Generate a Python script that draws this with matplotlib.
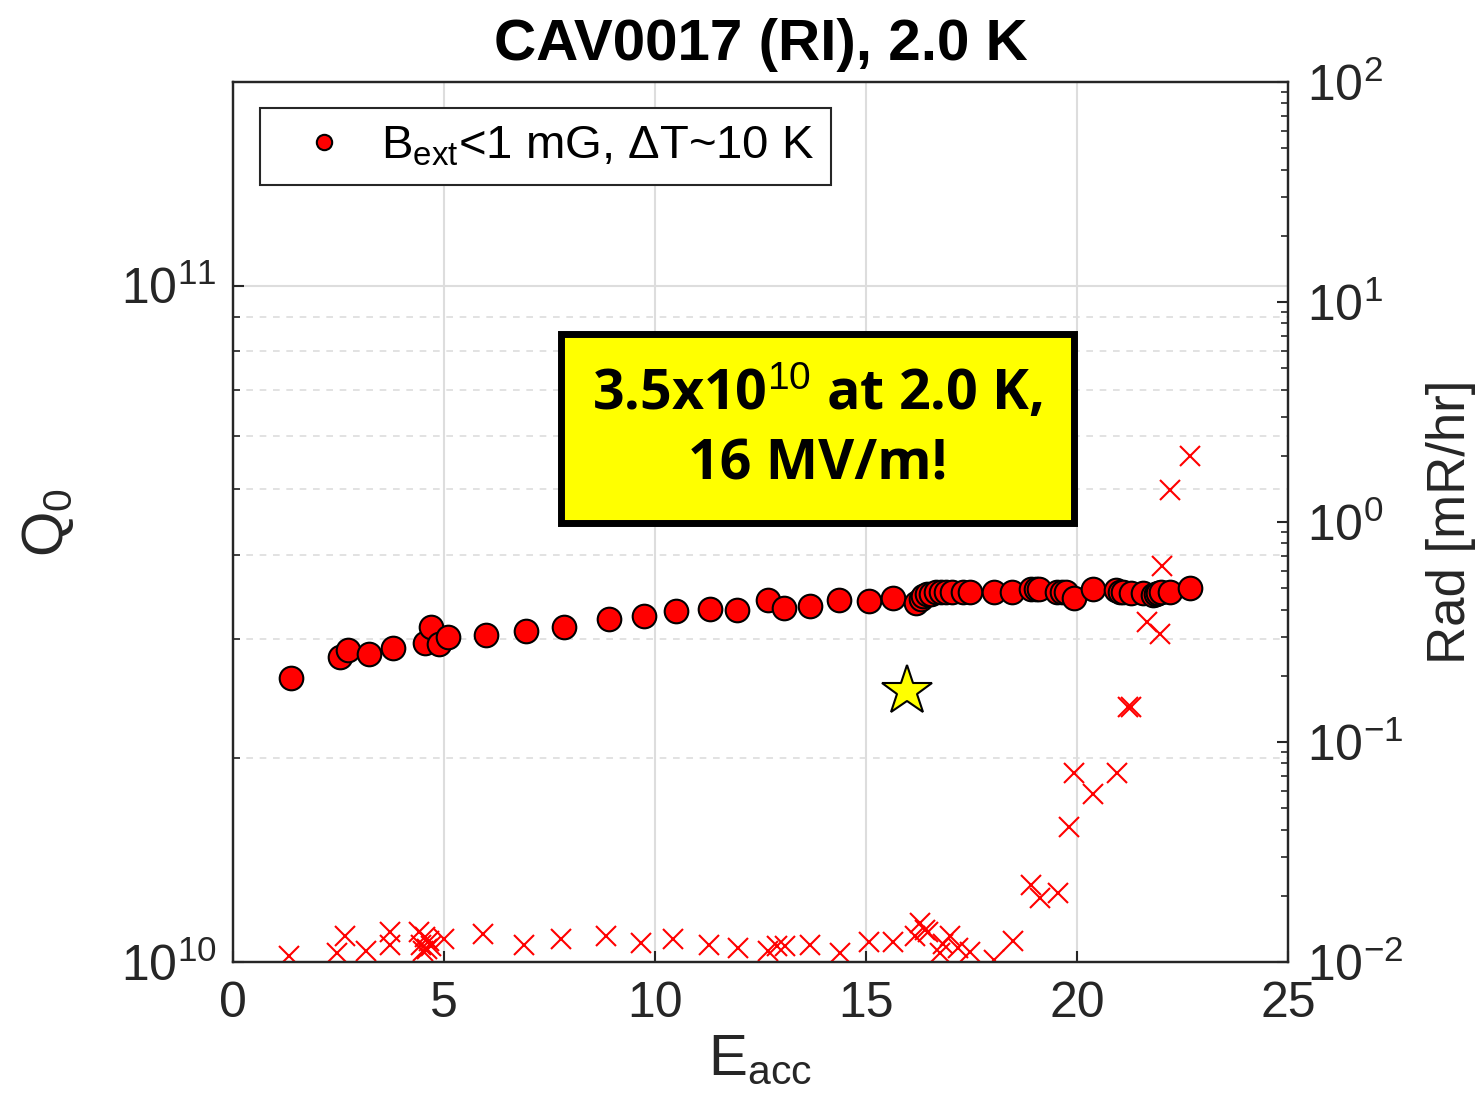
import numpy as np
import matplotlib
matplotlib.use("Agg")
import matplotlib.pyplot as plt

plt.rcParams['font.family'] = ['Liberation Sans', 'DejaVu Sans']
plt.rcParams['mathtext.fontset'] = 'custom'
plt.rcParams['mathtext.rm'] = 'Liberation Sans'
plt.rcParams['mathtext.it'] = 'Liberation Sans:italic'

# Q0 vs Eacc (Q0 in units of 1e10)
e_q = [1.37, 2.54, 2.72, 3.22, 3.79, 4.55, 4.69, 4.88, 5.09, 6.00, 6.94, 7.84,
       8.91, 9.74, 10.50, 11.30, 11.95, 12.67, 13.05, 13.67, 14.36, 15.07,
       15.64, 16.19, 16.30, 16.36, 16.45, 16.53, 16.65, 16.78, 16.90, 17.03,
       17.29, 17.46, 18.03, 18.47, 18.90, 19.02, 19.11, 19.53, 19.65, 19.75,
       19.93, 20.38, 20.93, 21.02, 21.10, 21.27, 21.57, 21.80, 21.86, 21.93,
       21.99, 22.20, 22.67]
q0 = [2.63, 2.82, 2.89, 2.85, 2.91, 2.96, 3.13, 2.95, 3.02, 3.04, 3.09, 3.13,
      3.21, 3.25, 3.30, 3.33, 3.32, 3.43, 3.34, 3.36, 3.43, 3.42, 3.45, 3.40,
      3.44, 3.48, 3.50, 3.50, 3.52, 3.52, 3.52, 3.52, 3.52, 3.52, 3.52, 3.52,
      3.56, 3.56, 3.56, 3.52, 3.52, 3.53, 3.45, 3.56, 3.55, 3.53, 3.52, 3.51,
      3.51, 3.49, 3.50, 3.51, 3.52, 3.53, 3.57]

# radiation vs Eacc (mR/hr)
e_rad = [1.32, 2.46, 2.65, 3.15, 3.71, 3.71, 4.40, 4.45, 4.50, 4.55, 4.60,
         4.65, 4.70, 5.00, 5.93, 6.90, 7.78, 8.85, 9.68, 10.43, 11.27, 11.96,
         12.67, 12.90, 13.07, 13.68, 14.38, 15.08, 15.65, 16.16, 16.28, 16.40,
         16.47, 16.75, 16.83, 16.99, 17.18, 17.46, 18.04, 18.49, 18.92, 19.12,
         19.55, 19.81, 19.93, 20.38, 20.95, 21.21, 21.29, 21.66, 21.97, 22.02,
         22.21, 22.67]
rad = [0.0106, 0.0110, 0.0131, 0.0112, 0.0137, 0.0120, 0.0137, 0.0120,
       0.0112, 0.0130, 0.0115, 0.0125, 0.0118, 0.0127, 0.0134, 0.0119, 0.0127,
       0.0131, 0.0122, 0.0127, 0.0119, 0.0116, 0.0112, 0.0118, 0.0118, 0.0119,
       0.0110, 0.0123, 0.0123, 0.0132, 0.0151, 0.0140, 0.0137, 0.0110, 0.0121,
       0.0132, 0.0116, 0.0111, 0.0102, 0.0125, 0.0223, 0.0196, 0.0206, 0.041,
       0.072, 0.058, 0.072, 0.145, 0.145, 0.35, 0.31, 0.63, 1.40, 2.0]

star_e = [15.97]
star_q = [2.52]

fig = plt.figure(figsize=(14.8, 11.14), dpi=100)
ax = fig.add_axes([0.1574, 0.1364, 0.7129, 0.79])
ax2 = ax.twinx()

ax.plot(e_q, np.array(q0) * 1e10, 'o', color='red', mec='black', mew=1.5,
        ms=17, label=r'B$_{\rm ext}$<1 mG, ΔT~10 K', zorder=3)
ax.plot(star_e, np.array(star_q) * 1e10, '*', color='yellow', mec='black',
        mew=1.5, ms=38, zorder=4)
ax2.plot(e_rad, rad, 'x', color='red', ms=14, mew=1.5)

ax.set_yscale('log')
ax.set_xlim(0, 25)
ax.set_ylim(1e10, 2e11)
ax.set_xticks([0, 5, 10, 15, 20, 25])
ax2.set_yscale('log')
ax2.set_ylim(1e-2, 1e2)

ax.grid(True, which='major', color='#dddddd', lw=1.5)
ax.grid(True, which='minor', axis='y', color='#dddddd', lw=1.2, ls=(0, (4, 4)))
ax.set_axisbelow(True)

for a in (ax, ax2):
    for s in a.spines.values():
        s.set_color('#262626')
        s.set_linewidth(1.6)
ax.tick_params(which='major', direction='in', length=8, width=1.5,
               labelsize=36, colors='#262626', pad=12)
ax.tick_params(which='minor', direction='in', length=5, width=1.2, colors='#262626')
ax.tick_params(axis='x', pad=14)
ax2.tick_params(which='major', direction='in', length=8, width=1.5,
                labelsize=36, colors='#262626', pad=14)
ax2.tick_params(which='minor', direction='in', length=5, width=1.2, colors='#262626')

ax.set_title('CAV0017 (RI), 2.0 K', fontsize=42, fontweight='bold', pad=16)
ax.set_xlabel(r'E$_{\rm acc}$', fontsize=42, labelpad=4, color='#262626')
ax.set_ylabel(r'Q$_{\rm 0}$', fontsize=42, labelpad=32, color='#262626')
ax2.set_ylabel('Rad [mR/hr]', fontsize=38, labelpad=16, color='#262626')

leg = ax.legend(loc='upper left', fontsize=34, markerscale=0.65, fancybox=False,
                framealpha=1, edgecolor='#262626', handletextpad=0.2,
                borderpad=0.35, borderaxespad=0, bbox_to_anchor=(0.026, 0.97))
leg.get_frame().set_linewidth(1.5)

ax2.text(0.554, 0.606, '3.5x10$^{\\rm 10}$ at 2.0 K,\n16 MV/m!',
         transform=ax2.transAxes, ha='center', va='center', fontsize=40,
         fontweight='bold', family='Open Sans', linespacing=1.35, zorder=10,
         bbox=dict(boxstyle='square,pad=0.55', fc='#ffff00', ec='black', lw=5))

fig.savefig('out.png', dpi=100)
